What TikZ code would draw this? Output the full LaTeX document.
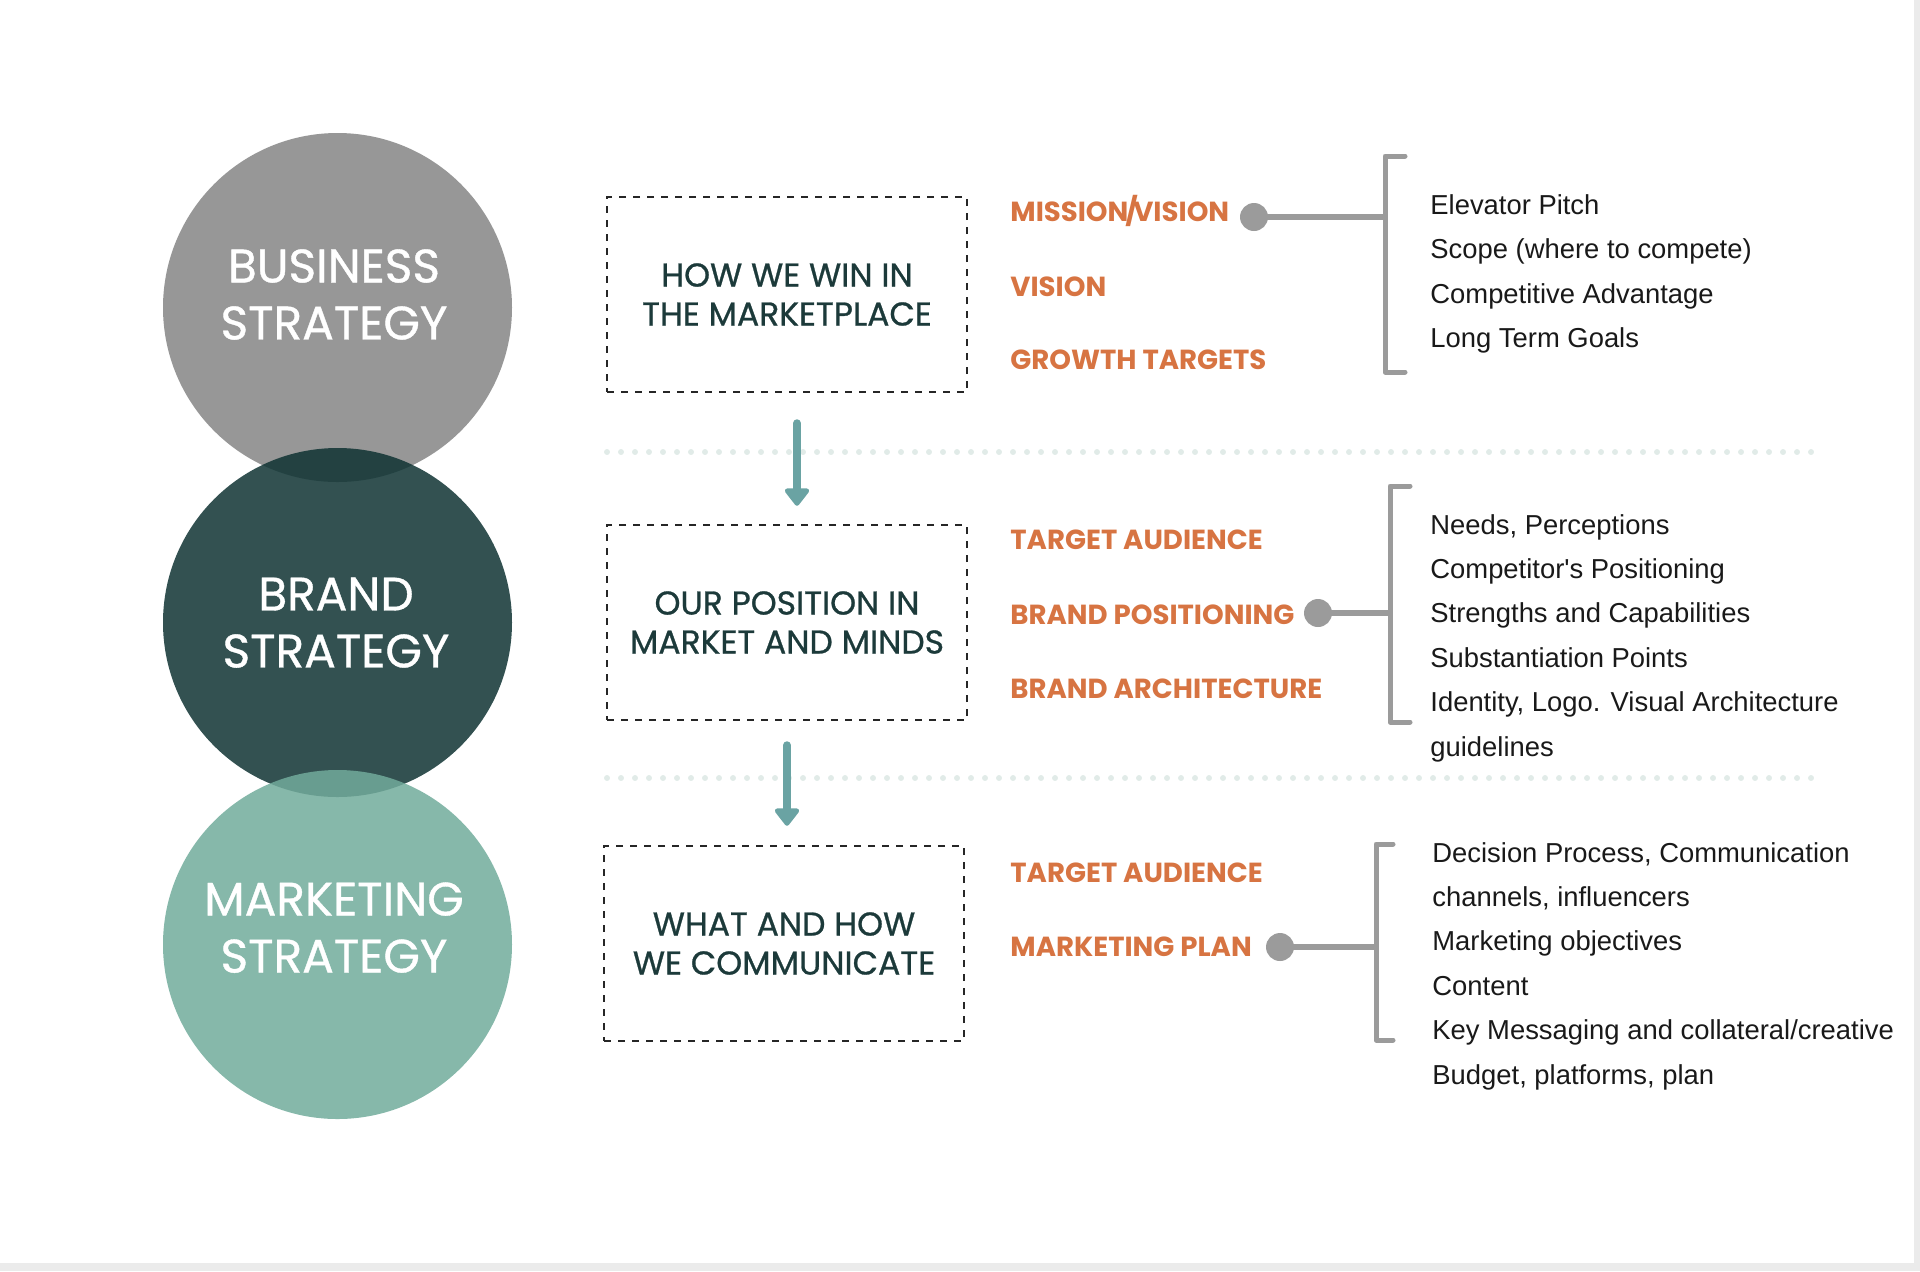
\documentclass[tikz,border=0pt]{standalone}
\usepackage{fontspec}
\setmainfont{Poppins}
\newfontfamily\headfont{Poppins}[FakeBold=0.8]
\newfontfamily\listfont{Liberation Sans}
\usepackage{tikz}
\usetikzlibrary{arrows.meta,positioning,calc}
\definecolor{bizgrey}{RGB}{151,151,151}
\definecolor{brandteal}{RGB}{15,51,51}
\definecolor{mktgreen}{RGB}{113,171,155}
\definecolor{boxink}{RGB}{28,58,58}
\definecolor{tagorange}{RGB}{215,116,66}
\definecolor{linkgrey}{RGB}{155,155,155}
\definecolor{flowteal}{RGB}{106,163,163}
\definecolor{dotmint}{RGB}{225,235,232}
\definecolor{edgegrey}{RGB}{235,235,235}
\tikzset{
  stratcircle/.style = {circle, inner sep=0pt, minimum size=174.5pt},
  stratlabel/.style  = {text=white, align=center, inner sep=0pt,
                        font=\headfont\fontsize{23.5}{28.5}\selectfont},
  dashbox/.style     = {draw=black!85, line width=1.25pt, dash pattern=on 3.5pt off 3.5pt,
                        minimum width=180pt, minimum height=97.5pt, align=center,
                        text=boxink, font=\headfont\fontsize{16.5}{19.5}\selectfont},
  tag/.style         = {anchor=base west, inner sep=0pt, text=tagorange,
                        font=\fontsize{13.8}{13.8}\selectfont\bfseries},
  pickdot/.style     = {fill=linkgrey, circle, inner sep=0pt, minimum size=14pt},
  link/.style        = {draw=linkgrey, line width=3pt},
  bracketline/.style = {draw=linkgrey, line width=2.5pt, line cap=round, line join=round},
  item/.style        = {anchor=base west, inner sep=0pt, text=black!90,
                        font=\listfont\fontsize{13.7}{13.7}\selectfont},
  flow/.style        = {-{Triangle[width=14pt,length=9.5pt,round]}, draw=flowteal,
                        fill=flowteal, line width=4pt, line cap=round},
  divider/.style     = {draw=dotmint, line width=3pt, line cap=round,
                        dash pattern=on 0pt off 7pt},
}
\begin{document}
\begin{tikzpicture}[x=0.5pt,y=-0.5pt]
\useasboundingbox (0,0) rectangle (1920,1271);
\fill[edgegrey] (1914,0) rectangle (1920,1271);
\fill[edgegrey] (0,1263) rectangle (1920,1271);

% strategy circles
\node[stratcircle, fill=bizgrey] (biz) at (337.5,307.5) {};
\node[stratcircle, fill=brandteal, fill opacity=0.85] (brand) at (337.5,622.5) {};
\node[stratcircle, fill=mktgreen, fill opacity=0.85] (mkt) at (337.5,944.5) {};
\node[stratlabel] (bizlabel) at (334,294.5) {BUSINESS\\STRATEGY};
\node[stratlabel] (brandlabel) at (336,622.7) {BRAND\\STRATEGY};
\node[stratlabel] (mktlabel) at (334,927.6) {MARKETING\\STRATEGY};

% dashed boxes
\node[dashbox] (win) at (787,294.5) {HOW WE WIN IN\\THE MARKETPLACE};
\node[dashbox] (position) at (787,622.5) {OUR POSITION IN\\MARKET AND MINDS};
\node[dashbox] (communicate) at (784,943.5) {WHAT AND HOW\\WE COMMUNICATE};

% dotted dividers
\coordinate (div1l) at (607,452); \coordinate (div1r) at (1820,452);
\coordinate (div2l) at (607,778); \coordinate (div2r) at (1820,778);
\draw[divider] (div1l) -- (div1r);
\draw[divider] (div2l) -- (div2r);

% flow arrows
\draw[flow, shorten <=15pt, shorten >=9pt] ([xshift=5pt]win.south) -- ([xshift=5pt]position.north);
\draw[flow, shorten <=12pt, shorten >=9.5pt] (position.south) -- (position.south |- communicate.north);

% orange tags
\node[tag] (mission) at (1010,221) {MISSION\kern-1.6pt/\kern-2.2pt VISION};
\node[tag] (vision) at (1010,296) {VISION};
\node[tag] (growth) at (1010,369) {GROWTH TARGETS};
\node[tag] (audience1) at (1010,549) {TARGET AUDIENCE};
\node[tag] (positioning) at (1010,624) {BRAND POSITIONING};
\node[tag] (architecture) at (1010,698) {BRAND ARCHITECTURE};
\node[tag] (audience2) at (1010,882) {TARGET AUDIENCE};
\node[tag] (plan) at (1010,956) {MARKETING PLAN};

% brackets and pick-off dots
\coordinate (br1t) at (1385,156); \coordinate (br1b) at (1385,372);
\coordinate (br2t) at (1390,486); \coordinate (br2b) at (1390,722);
\coordinate (br3t) at (1376,844); \coordinate (br3b) at (1376,1040);
\draw[bracketline] (br1t) ++(20,0) -- (br1t) -- (br1b) -- ++(20,0);
\draw[bracketline] (br2t) ++(20,0) -- (br2t) -- (br2b) -- ++(20,0);
\draw[bracketline] (br3t) ++(17,0) -- (br3t) -- (br3b) -- ++(17,0);
\node[pickdot] (dot1) at (1254,217) {};
\node[pickdot] (dot2) at (1318,613) {};
\node[pickdot] (dot3) at (1280,947) {};
\draw[link] (dot1.center) -- (dot1.center -| br1t);
\draw[link] (dot2.center) -- (dot2.center -| br2t);
\draw[link] (dot3.center) -- (dot3.center -| br3t);

% item lists
\foreach \txt [count=\i from 0] in {Elevator Pitch, {Scope (where to compete)},
    Competitive Advantage, Long Term Goals}
  \node[item] (bizitem\i) at (1430,214+44.5*\i) {\txt};
\foreach \txt [count=\i from 0] in {{Needs, Perceptions}, Competitor\textquotesingle s Positioning,
    Strengths and Capabilities, Substantiation Points,
    {Identity, Logo. Visual Architecture}, guidelines}
  \node[item] (branditem\i) at (1430,534+44.4*\i) {\txt};
\foreach \txt [count=\i from 0] in {{Decision Process, Communication}, {channels, influencers},
    Marketing objectives, Content, Key Messaging and collateral/creative,
    {Budget, platforms, plan}}
  \node[item] (mktitem\i) at (1432,862+44.4*\i) {\txt};
\end{tikzpicture}
\end{document}
